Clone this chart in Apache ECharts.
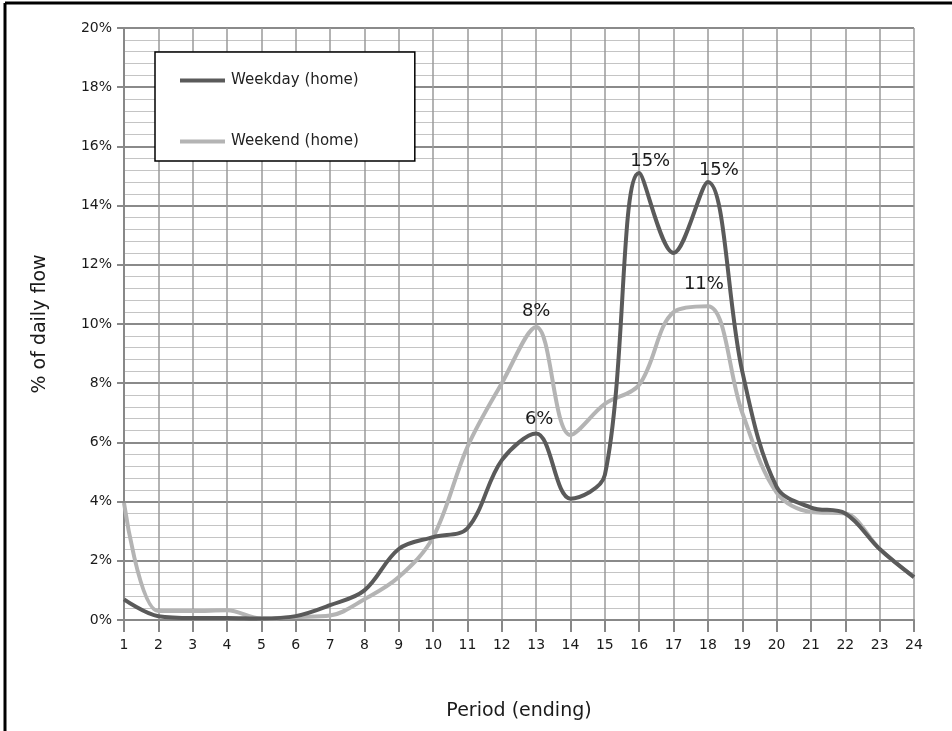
<!DOCTYPE html>
<html>
<head>
<meta charset="utf-8">
<title>Daily flow profile</title>
<script src="https://cdn.jsdelivr.net/npm/echarts@6/dist/echarts.min.js"></script>
<style>
  html, body { margin: 0; padding: 0; background: #fff; }
  #chart { width: 952px; height: 731px; }
</style>
</head>
<body>
<div id="chart"></div>
<script>
// Period (hour ending) on the x axis
const periods = [1, 2, 3, 4, 5, 6, 7, 8, 9, 10, 11, 12, 13, 14, 15, 16, 17, 18, 19, 20, 21, 22, 23, 24];

// Share of daily flow (%) per period
const weekdayHome = [0.7, 0.13, 0.07, 0.07, 0.05, 0.13, 0.5, 1.0, 2.4, 2.8, 3.1, 5.4, 6.3, 4.1, 4.9, 15.1, 12.4, 14.8, 8.4, 4.5, 3.8, 3.6, 2.4, 1.45];
const weekendHome = [3.95, 0.3, 0.3, 0.33, 0.05, 0.1, 0.15, 0.7, 1.45, 2.8, 5.85, 8.0, 9.9, 6.25, 7.3, 7.95, 10.4, 10.6, 7.0, 4.3, 3.65, 3.6, 2.4, 1.45];

// Peak annotations, keyed by period
const weekdayPeakLabels = { 13: '6%', 16: '15%', 18: '15%' };
const weekendPeakLabels = { 13: '8%', 18: '11%' };

const yTicks = { min: 0, max: 20, step: 2 };

const FONT = 'Verdana, "DejaVu Sans", sans-serif';

const peakLabelStyle = {
  show: true,
  position: 'top',
  distance: 5,
  fontFamily: FONT,
  fontSize: 18,
  color: '#1a1a1a'
};
const labelOffsets = {
  weekday: { 13: [3, 0], 16: [11, 2], 18: [11, 2] },
  weekend: { 13: [0, -2], 18: [-4, -8] }
};

function buildData(values, labels, offsets) {
  return periods.map((p, i) => {
    const item = { value: [p, values[i]] };
    if (labels[p]) {
      item.label = Object.assign({}, peakLabelStyle, {
        formatter: labels[p],
        offset: offsets[p] || [0, 0]
      });
    }
    return item;
  });
}

const chart = echarts.init(document.getElementById('chart'));

chart.setOption({
  backgroundColor: '#ffffff',
  animation: false,
  textStyle: { fontFamily: FONT },
  grid: { left: 124, right: 38, top: 28, bottom: 111, containLabel: false },
  legend: {
    orient: 'vertical',
    left: 155,
    top: 52,
    padding: [21, 56, 12, 25],
    itemGap: 46,
    itemWidth: 45,
    itemHeight: 4,
    borderColor: '#000',
    borderWidth: 1.5,
    backgroundColor: '#fff',
    textStyle: { fontFamily: FONT, fontSize: 15, color: '#222', padding: [0, 0, 0, 1] },
    data: [
      { name: 'Weekday (home)', icon: 'rect' },
      { name: 'Weekend (home)', icon: 'rect' }
    ]
  },
  xAxis: {
    type: 'value',
    min: periods[0],
    max: periods[periods.length - 1],
    interval: 1,
    name: 'Period (ending)',
    nameLocation: 'middle',
    nameGap: 82,
    nameTextStyle: { fontFamily: FONT, fontSize: 19, color: '#1a1a1a' },
    axisLine: { show: true, onZero: false, lineStyle: { color: '#888', width: 2 } },
    axisTick: { show: true, length: 12, lineStyle: { color: '#888', width: 2 } },
    axisLabel: { fontFamily: FONT, fontSize: 14, color: '#1a1a1a', margin: 18 },
    splitLine: { show: true, lineStyle: { color: '#9a9a9a', width: 1.5 } }
  },
  yAxis: {
    type: 'value',
    min: yTicks.min,
    max: yTicks.max,
    interval: yTicks.step,
    name: '% of daily flow',
    nameLocation: 'middle',
    nameGap: 74,
    nameRotate: 90,
    nameTextStyle: { fontFamily: FONT, fontSize: 19, color: '#1a1a1a' },
    axisLine: { show: true, lineStyle: { color: '#888', width: 2 } },
    axisTick: { show: true, length: 7, lineStyle: { color: '#888', width: 2 } },
    axisLabel: { fontFamily: FONT, fontSize: 14, color: '#1a1a1a', margin: 12, formatter: '{value}%' },
    splitLine: { show: true, lineStyle: { color: '#8a8a8a', width: 2 } },
    minorTick: { show: false, splitNumber: 5 },
    minorSplitLine: { show: true, lineStyle: { color: '#c4c4c4', width: 1 } }
  },
  series: [
    {
      name: 'Weekday (home)',
      type: 'line',
      smooth: 0.35,
      symbol: 'circle',
      symbolSize: 0,
      showSymbol: true,
      showAllSymbol: true,
      z: 3,
      lineStyle: { color: '#5a5a5a', width: 4 },
      itemStyle: { color: '#5a5a5a' },
      data: buildData(weekdayHome, weekdayPeakLabels, labelOffsets.weekday)
    },
    {
      name: 'Weekend (home)',
      type: 'line',
      smooth: 0.35,
      symbol: 'circle',
      symbolSize: 0,
      showSymbol: true,
      showAllSymbol: true,
      z: 2,
      lineStyle: { color: '#b4b4b4', width: 4 },
      itemStyle: { color: '#b4b4b4' },
      data: buildData(weekendHome, weekendPeakLabels, labelOffsets.weekend)
    }
  ],
  graphic: [
    // outer frame: top and left edges
    { type: 'line', shape: { x1: 5, y1: 3, x2: 952, y2: 3 }, style: { stroke: '#000', lineWidth: 3 } },
    { type: 'line', shape: { x1: 5, y1: 3, x2: 5, y2: 731 }, style: { stroke: '#000', lineWidth: 3 } }
  ]
});
</script>
</body>
</html>
